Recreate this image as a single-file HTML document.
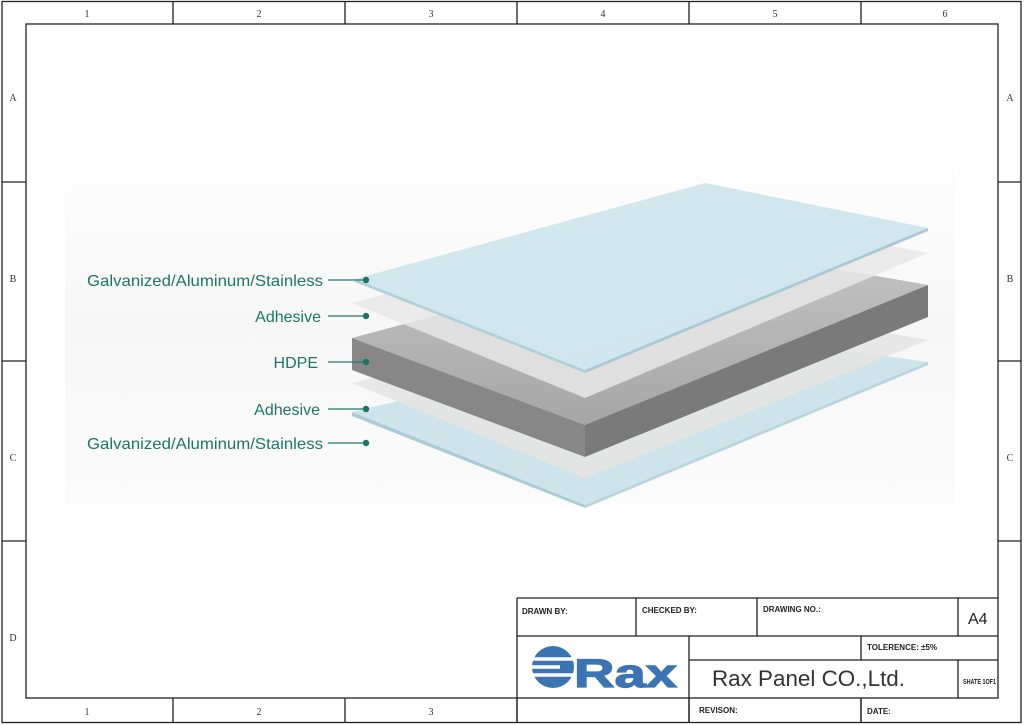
<!DOCTYPE html>
<html><head><meta charset="utf-8"><style>
html,body{margin:0;padding:0;background:#fff;}
svg{display:block;font-family:"Liberation Sans",sans-serif;}
</style></head><body>
<svg width="1024" height="725" viewBox="0 0 1024 725" xmlns="http://www.w3.org/2000/svg">
<defs>
<linearGradient id="bg" x1="0" y1="0" x2="0" y2="1"><stop offset="0" stop-color="#fff"/><stop offset="0.5" stop-color="#f7f7f7"/><stop offset="1" stop-color="#fbfbfb"/></linearGradient>
<linearGradient id="top" x1="0" y1="0" x2="1" y2="1"><stop offset="0" stop-color="#d4e8ef"/><stop offset="1" stop-color="#cfe4ec"/></linearGradient>
<linearGradient id="hd" x1="0" y1="0" x2="0" y2="1"><stop offset="0" stop-color="#c4c4c4"/><stop offset="1" stop-color="#a6a6a6"/></linearGradient>
</defs>
<rect x="0" y="0" width="1024" height="725" fill="#fff"/>
<rect x="65" y="135" width="890" height="370" fill="url(#bg)"/>
<g stroke="#222" fill="none" stroke-width="1.3">
<rect x="2" y="1.5" width="1019" height="721"/>
<rect x="26" y="24" width="972" height="674"/>
<path d="M173 1.5V24M345 1.5V24M517 1.5V24M689 1.5V24M861 1.5V24"/>
<path d="M173 698V722M345 698V722M517 698V722M689 698V722M861 698V722"/>
<path d="M2 182H26M2 361H26M2 541H26M998 182H1021M998 361H1021M998 541H1021"/>
</g>
<g font-family="Liberation Serif,serif" font-size="10" fill="#333" text-anchor="middle">
<text x="87" y="17">1</text><text x="259" y="17">2</text><text x="431" y="17">3</text><text x="603" y="17">4</text><text x="775" y="17">5</text><text x="945" y="17">6</text>
<text x="87" y="715">1</text><text x="259" y="715">2</text><text x="431" y="715">3</text>
<text x="13" y="101">A</text><text x="13" y="282">B</text><text x="13" y="461">C</text><text x="13" y="641">D</text>
<text x="1010" y="101">A</text><text x="1010" y="282">B</text><text x="1010" y="461">C</text>
</g>
<polygon points="352,412 700,330 928,362 585,505" fill="#cfe3ea"/>
<polygon points="352,412 585,505 585,508 352,416" fill="#a9cbd6"/>
<polygon points="585,505 928,362 928,365 585,508" fill="#b8d4dd"/>
<polygon points="352,383 700,300 928,340 585,478" fill="#e4e4e4" opacity="0.9"/>
<polygon points="352,338 700,245 928,285 585,425" fill="url(#hd)"/>
<polygon points="352,338 585,425 585,457 352,370" fill="#878787"/>
<polygon points="585,425 928,285 928,317 585,457" fill="#7a7a7a"/>
<polygon points="352,303 700,210 928,253 585,398" fill="#e8e8e8" opacity="0.85"/>
<polygon points="355,279 705,183 928,228 585,370" fill="url(#top)"/>
<polygon points="585,370 928,228 928,231 585,373" fill="#a8c9d4"/>
<polygon points="355,279 585,370 585,373 355,282" fill="#b0d0da"/>
<g fill="#1c7664" font-size="16" text-anchor="end">
<text x="323" y="286" textLength="236" lengthAdjust="spacingAndGlyphs">Galvanized/Aluminum/Stainless</text>
<text x="321" y="322">Adhesive</text>
<text x="318" y="368">HDPE</text>
<text x="320" y="415">Adhesive</text>
<text x="323" y="449" textLength="236" lengthAdjust="spacingAndGlyphs">Galvanized/Aluminum/Stainless</text>
</g>
<g stroke="#1f7a68" stroke-width="1.3"><path d="M328 280H366M328 316H366M328 362H366M328 409H366M328 443H366"/></g>
<g fill="#1a7464"><circle cx="366" cy="280" r="3.2"/><circle cx="366" cy="316" r="3.2"/><circle cx="366" cy="362" r="3.2"/><circle cx="366" cy="409" r="3.2"/><circle cx="366" cy="443" r="3.2"/></g>
<g stroke="#222" fill="none" stroke-width="1.3">
<path d="M517 598H998M517 636H998M689 660H998M517 698V722M517 598V698M636 598V636M757 598V636M958 598V636M689 636V722M861 636V660M958 660V698M861 698V722"/>
</g>
<g font-size="8" font-weight="bold" fill="#222">
<text x="522" y="614">DRAWN BY:</text>
<text x="642" y="613">CHECKED BY:</text>
<text x="763" y="612">DRAWING NO.:</text>
<text x="867" y="650">TOLERENCE:  ±5%</text>
<text x="963" y="684" font-size="7.5" textLength="33" lengthAdjust="spacingAndGlyphs">SHATE 1OF1</text>
<text x="699" y="713">REVISON:</text>
<text x="867" y="714">DATE:</text>
</g>
<text x="968" y="624" font-size="16" fill="#222">A4</text>
<text x="712" y="686" font-size="22" fill="#333" textLength="193" lengthAdjust="spacingAndGlyphs">Rax Panel CO.,Ltd.</text>
<g fill="#3a74b3"><circle cx="553" cy="667" r="21"/></g>
<g stroke="#fff" stroke-width="3.5"><path d="M530 659H578M530 667H560M530 675H578"/></g>
<text x="574" y="687" font-size="40" font-weight="bold" fill="#3a74b3" stroke="#3a74b3" stroke-width="1.2" textLength="103" lengthAdjust="spacingAndGlyphs">Rax</text>
</svg>
</body></html>
